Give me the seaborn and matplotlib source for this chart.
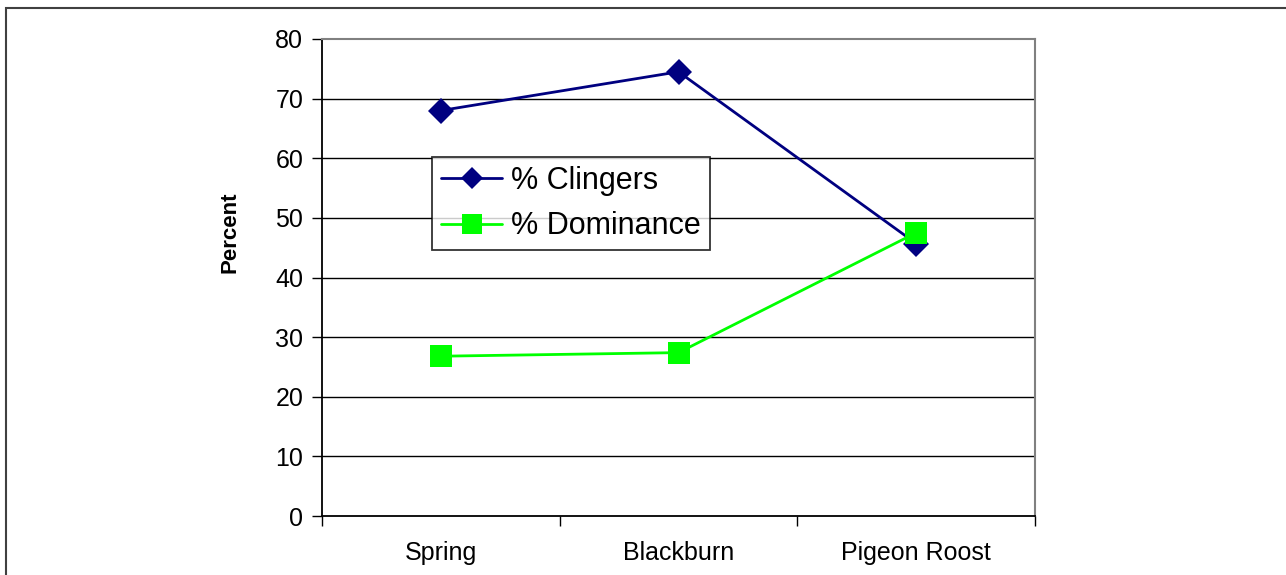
import matplotlib
matplotlib.use('Agg')
import matplotlib.pyplot as plt
import seaborn as sns
import pandas as pd
from matplotlib.patches import Rectangle

# data
sites = ['Spring', 'Blackburn', 'Pigeon Roost']
clingers = [68.0, 74.5, 45.7]
dominance = [26.8, 27.4, 47.5]

sns.set_style('white')
plt.rcParams['font.family'] = ['Liberation Sans', 'DejaVu Sans']
plt.rcParams['text.color'] = 'black'
plt.rcParams['xtick.color'] = 'black'
plt.rcParams['ytick.color'] = 'black'
plt.rcParams['axes.labelcolor'] = 'black'

df = pd.DataFrame({
    'site': sites * 2,
    'value': clingers + dominance,
    'series': ['% Clingers'] * 3 + ['% Dominance'] * 3,
})

fig = plt.figure(figsize=(12.86, 5.75), dpi=100)
ax = fig.add_axes([322 / 1286, 1 - 516 / 575, 713 / 1286, 477 / 575])

# outer chart border (top and left visible)
fig.patches.append(Rectangle((6 / 1286, -0.5), 2, 1.5 - 8 / 575, transform=fig.transFigure,
                             fill=False, edgecolor='#404040', linewidth=1.5, zorder=0))

for yv in range(10, 80, 10):
    ax.axhline(yv, color='black', linewidth=1.0, zorder=1)

sns.lineplot(data=df[df.series == '% Clingers'], x='site', y='value', color='#000080',
             marker='D', markersize=13, markeredgewidth=0, linewidth=2.0,
             label='% Clingers', ax=ax, zorder=3, sort=False)
sns.lineplot(data=df[df.series == '% Dominance'], x='site', y='value', color='#00FF00',
             marker='s', markersize=16.5, markeredgewidth=0, linewidth=2.0,
             label='% Dominance', ax=ax, zorder=4, sort=False)

ax.set_xlim(-0.5, 2.5)
ax.set_ylim(0, 80)
ax.set_yticks(range(0, 81, 10))
ax.set_xticks([0, 1, 2])
ax.set_xticklabels(sites)
ax.set_xticks([-0.5, 0.5, 1.5, 2.5], minor=True)
ax.tick_params(axis='x', which='major', length=0, pad=18, labelsize=18)
ax.tick_params(axis='x', which='minor', length=7, width=1, direction='out', color='black', bottom=True)
ax.tick_params(axis='y', length=7, width=1, direction='out', color='black', left=True,
               labelsize=18, pad=6.5)
ax.set_xlabel('')
ax.set_ylabel('Percent', fontsize=16, fontweight='bold')
ax.yaxis.set_label_coords(-0.114, 0.595)

for s in ['left', 'bottom']:
    ax.spines[s].set_color('black')
    ax.spines[s].set_linewidth(1.3)
for s in ['right', 'top']:
    ax.spines[s].set_color('#808080')
    ax.spines[s].set_linewidth(1.5)

leg = ax.legend(loc='upper left', bbox_to_anchor=(0.154, 0.753), borderaxespad=0,
                fontsize=22, frameon=True, fancybox=False, handlelength=2.0,
                borderpad=0.3, labelspacing=0.5, handletextpad=0.3)
leg.get_frame().set_edgecolor('black')
leg.get_frame().set_linewidth(1.3)
for h in leg.legend_handles:
    h.set_markersize(h.get_markersize() * 0.9)

fig.savefig('out.png', dpi=100)
